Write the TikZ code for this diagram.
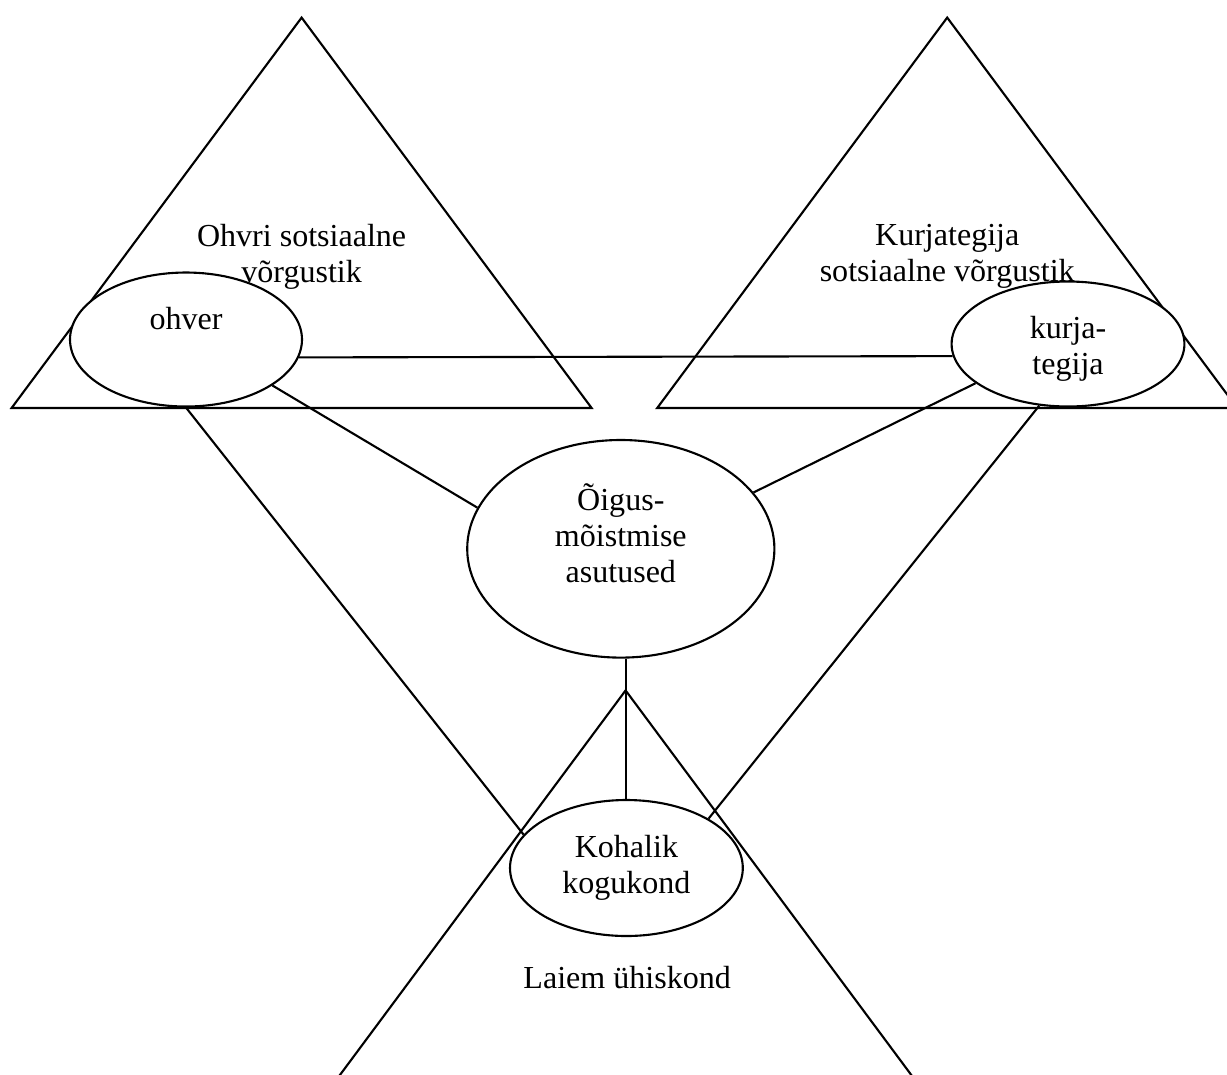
\documentclass[tikz,border=0pt]{standalone}
\usepackage{fontspec}
\setmainfont{Liberation Serif}
\usetikzlibrary{shapes.geometric}

\begin{document}
\begin{tikzpicture}[line width=0.75pt,
	every node/.style={font=\fontsize{11.4}{12.8}\selectfont, align=center},
	ring/.style={draw, fill=white, ellipse, inner sep=0pt}]
	\useasboundingbox (0,0) rectangle (15.3375,-13.425);
	\clip (0,0) rectangle (15.3375,-13.425);
	\foreach \apex in {(3.77,-0.22),(11.84,-0.22),(7.82,-8.63)}
		\draw \apex -- ++(-3.625,-4.88) -- ++(7.25,0) -- cycle;

	\node[ring, minimum width=2.9cm, minimum height=1.675cm, text depth=15pt] (ohver) at (2.325,-4.244) {ohver};
	\node[ring, minimum width=2.91cm, minimum height=1.5625cm, text height=24pt] (kurj) at (13.35,-4.3) {kurja-\\tegija};
	\node[ring, minimum width=3.84cm, minimum height=2.72cm, text depth=11.4pt] (oigus) at (7.76,-6.86) {Õigus-\\mõistmise\\asutused};
	\node[ring, minimum width=2.91cm, minimum height=1.7cm] (kohalik) at (7.83,-10.85) {Kohalik\\kogukond};

	\node (ohvrivork) at (3.77,-3.21) {Ohvri sotsiaalne\\võrgustik};
	\node (kurjvork) at (11.84,-3.2) {Kurjategija\\sotsiaalne võrgustik};
	\node[anchor=base] (laiem) at (7.84,-12.354) {Laiem ühiskond};

	\draw (ohver.-9) -- (kurj.186);
	\draw (ohver.-28) -- (oigus.164);
	\draw (kurj.203) -- (oigus.23);
	\draw (ohver.south) -- (kohalik.162);
	\draw (kurj.245) -- (kohalik.31);
	\draw (kohalik.north) -- (kohalik.north |- oigus.south);
\end{tikzpicture}
\end{document}
